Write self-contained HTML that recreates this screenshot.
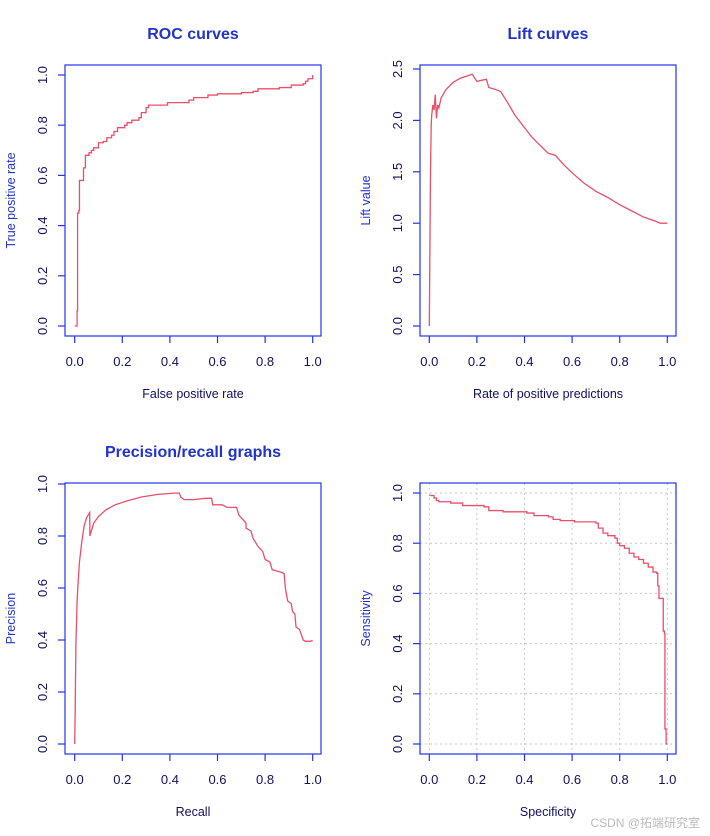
<!DOCTYPE html>
<html><head><meta charset="utf-8"><style>
html,body{margin:0;padding:0;background:#fff;}
svg{display:block;font-family:"Liberation Sans",sans-serif;}
</style></head><body>
<svg id="chart" width="710" height="836" viewBox="0 0 710 836"></svg>
<script>
const rocFpr=[0,0.01,0.01,0.012,0.012,0.017,0.02,0.035,0.037,0.045,0.06,0.07,0.08,0.1,0.12,0.135,0.155,0.165,0.18,0.21,0.22,0.24,0.27,0.28,0.3,0.31,0.39,0.45,0.48,0.5,0.56,0.6,0.69,0.7,0.75,0.77,0.86,0.91,0.96,0.97,0.98,1.0,1.0];
const rocTpr=[0,0,0.06,0.06,0.45,0.46,0.58,0.58,0.63,0.68,0.69,0.70,0.71,0.73,0.735,0.75,0.76,0.775,0.79,0.80,0.81,0.82,0.83,0.85,0.87,0.88,0.89,0.89,0.90,0.91,0.92,0.925,0.925,0.93,0.935,0.945,0.95,0.96,0.965,0.975,0.985,0.99,1.0];
const liftRate=[0,0.002,0.005,0.008,0.01,0.015,0.02,0.025,0.03,0.035,0.04,0.05,0.07,0.1,0.13,0.17,0.18,0.2,0.22,0.24,0.25,0.28,0.3,0.33,0.36,0.4,0.43,0.46,0.5,0.53,0.56,0.6,0.65,0.7,0.75,0.8,0.85,0.9,0.95,0.97,1.0];
const liftVal=[0,0.6,1.5,1.95,2.05,2.15,2.1,2.25,2.02,2.15,2.12,2.22,2.3,2.37,2.41,2.44,2.45,2.38,2.39,2.4,2.32,2.3,2.28,2.17,2.05,1.93,1.84,1.77,1.68,1.66,1.58,1.49,1.39,1.31,1.25,1.18,1.12,1.06,1.02,1.0,1.0];
const prRecall=[0,0.002,0.005,0.01,0.015,0.02,0.03,0.04,0.05,0.063,0.064,0.07,0.08,0.1,0.13,0.17,0.22,0.28,0.35,0.42,0.44,0.445,0.46,0.5,0.55,0.575,0.58,0.62,0.64,0.68,0.69,0.7,0.72,0.72,0.74,0.75,0.77,0.79,0.8,0.82,0.83,0.85,0.87,0.88,0.885,0.895,0.91,0.915,0.925,0.93,0.945,0.96,0.97,0.99,1.0];
const prPrecision=[0,0.13,0.38,0.55,0.63,0.7,0.78,0.84,0.87,0.89,0.80,0.82,0.85,0.875,0.9,0.92,0.935,0.95,0.96,0.965,0.965,0.95,0.94,0.94,0.945,0.945,0.92,0.92,0.91,0.91,0.88,0.87,0.85,0.83,0.82,0.79,0.76,0.74,0.71,0.70,0.67,0.665,0.66,0.655,0.6,0.55,0.54,0.51,0.5,0.45,0.44,0.4,0.395,0.395,0.398];
const ssSpec=[0,0.02,0.03,0.04,0.09,0.14,0.23,0.25,0.31,0.41,0.44,0.5,0.52,0.55,0.61,0.7,0.71,0.73,0.75,0.78,0.79,0.8,0.82,0.84,0.86,0.88,0.9,0.92,0.94,0.955,0.96,0.965,0.98,0.983,0.988,0.99,0.995,1.0];
const ssSens=[0.99,0.98,0.97,0.965,0.96,0.95,0.945,0.93,0.925,0.92,0.91,0.905,0.895,0.89,0.885,0.88,0.86,0.84,0.83,0.82,0.80,0.79,0.78,0.76,0.745,0.735,0.72,0.705,0.685,0.68,0.63,0.58,0.58,0.45,0.44,0.06,0.0,0.0];
const unitTicks=["0.0","0.2","0.4","0.6","0.8","1.0"];
const liftTicks=["0.0","0.5","1.0","1.5","2.0","2.5"];

const NS="http://www.w3.org/2000/svg";
const svg=document.getElementById('chart');
const AX="#2233ee", TXT="#101060", LAB="#2233cc", LINE="#e8506a";
function mk(tag,attrs,parent){const e=document.createElementNS(NS,tag);for(const k in attrs)e.setAttribute(k,attrs[k]);(parent||svg).appendChild(e);return e;}

function panel(p){
  const g=mk('g',{});
  
  
  const sx=v=>p.x0+(v-p.xmin)/(p.xmax-p.xmin)*(p.x1-p.x0);
  const sy=v=>p.y0+(v-p.ymin)/(p.ymax-p.ymin)*(p.y1-p.y0);
  if(p.title){const t=mk('text',{x:(p.bx0+p.bx1)/2,y:p.by0-26,'text-anchor':'middle','font-size':16,'font-weight':'bold',fill:'#2233cc'},g);t.textContent=p.title;
    }
  // grid
  if(p.grid){p.xt.forEach(s=>{const x=sx(parseFloat(s));const l=mk('line',{x1:x,x2:x,y1:p.by0,y2:p.by1,stroke:'#c8c8c8','stroke-dasharray':'2,3'},g);});
    p.yt.forEach(s=>{const y=sy(parseFloat(s));const l=mk('line',{x1:p.bx0,x2:p.bx1,y1:y,y2:y,stroke:'#c8c8c8','stroke-dasharray':'2,3'},g);});}
  // series
  let d='';
  for(let i=0;i<p.xs.length;i++){
    const X=sx(p.xs[i]),Y=sy(p.ys[i]);
    if(i===0)d+='M'+X+','+Y;
    else if(p.step){d+='H'+X+'V'+Y;}
    else d+='L'+X+','+Y;
  }
  const path=mk('path',{d:d,fill:'none',stroke:LINE,'stroke-width':1.3},g);
  
  
  // box
  const box=mk('rect',{x:p.bx0,y:p.by0,width:p.bx1-p.bx0,height:p.by1-p.by0,fill:'none',stroke:AX,'stroke-width':1.2},g);
  
  // x ticks
  p.xt.forEach(s=>{const x=sx(parseFloat(s));
    mk('line',{x1:x,x2:x,y1:p.by1,y2:p.by1+7,stroke:AX,'stroke-width':1.2},g);
    const t=mk('text',{x:x,y:p.by1+30,'text-anchor':'middle','font-size':13,fill:TXT},g);t.textContent=s;
    });
  p.yt.forEach(s=>{const y=sy(parseFloat(s));
    mk('line',{x1:p.bx0,x2:p.bx0-7,y1:y,y2:y,stroke:AX,'stroke-width':1.2},g);
    const tx=p.bx0-18;
    const t=mk('text',{x:tx,y:y,'text-anchor':'middle','font-size':13,fill:TXT,transform:'rotate(-90 '+tx+' '+y+')'},g);t.textContent=s;
    });
  const xl=mk('text',{x:(p.bx0+p.bx1)/2,y:p.by1+62,'text-anchor':'middle','font-size':12.5,fill:TXT},g);xl.textContent=p.xlab;
  
  const lx=p.bx0-50,ly=(p.by0+p.by1)/2;
  const yl=mk('text',{x:lx,y:ly,'text-anchor':'middle','font-size':12.5,fill:LAB,transform:'rotate(-90 '+lx+' '+ly+')'},g);yl.textContent=p.ylab;
  
}

panel({name:'roc-panel',title:'ROC curves',bx0:65,bx1:321,by0:65,by1:336,x0:74.7,x1:312.7,y0:326,y1:75,xmin:0,xmax:1,ymin:0,ymax:1,
  xs:rocFpr,ys:rocTpr,step:true,xt:unitTicks,yt:unitTicks,xlab:'False positive rate',ylab:'True positive rate'});
panel({name:'lift-panel',title:'Lift curves',bx0:420,bx1:676,by0:65,by1:336,x0:429.3,x1:667.3,y0:326,y1:69,xmin:0,xmax:1,ymin:0,ymax:2.5,
  xs:liftRate,ys:liftVal,step:false,xt:unitTicks,yt:liftTicks,xlab:'Rate of positive predictions',ylab:'Lift value'});
panel({name:'precision-recall-panel',title:'Precision/recall graphs',bx0:65,bx1:321,by0:483,by1:754,x0:74.7,x1:312.7,y0:744,y1:484,xmin:0,xmax:1,ymin:0,ymax:1,
  xs:prRecall,ys:prPrecision,step:false,xt:unitTicks,yt:unitTicks,xlab:'Recall',ylab:'Precision'});
panel({name:'sensitivity-specificity-panel',title:'',bx0:420,bx1:676,by0:483,by1:754,x0:429.3,x1:667.3,y0:744,y1:493,xmin:0,xmax:1,ymin:0,ymax:1,
  xs:ssSpec,ys:ssSens,step:true,grid:true,xt:unitTicks,yt:unitTicks,xlab:'Specificity',ylab:'Sensitivity'});

const wm=mk('text',{x:700,y:827,'text-anchor':'end','font-size':12,fill:'#bbbbbb','font-family':'"Liberation Sans","Noto Sans CJK SC",sans-serif'});
wm.textContent='CSDN @拓端研究室';


</script>
</body></html>
